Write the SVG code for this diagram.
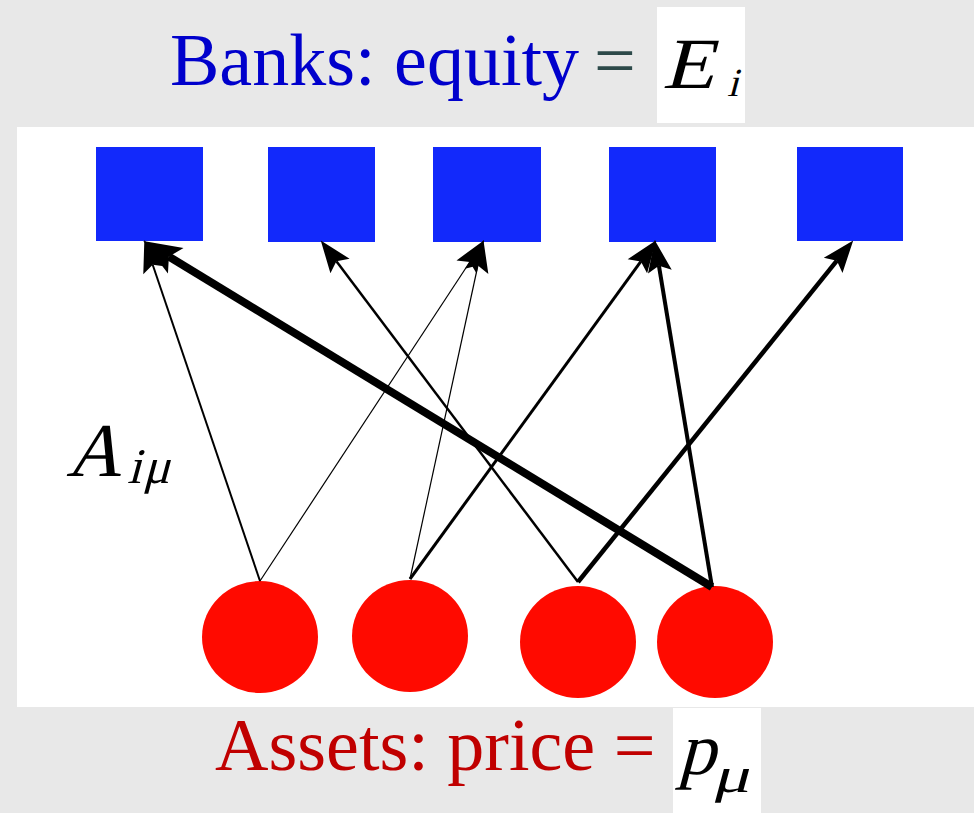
<svg xmlns="http://www.w3.org/2000/svg" width="974" height="813" viewBox="0 0 974 813">
<style>
.bank{fill:#1229fb}
.asset{fill:#ff0a00}
.edge{stroke:#000;fill:none;stroke-linecap:butt}
.ttl{font-family:"Liberation Serif","Times New Roman",serif}
.mi{fill:#000}
</style>
<defs>
<marker id="ah" markerUnits="userSpaceOnUse" orient="auto" refX="6" refY="0" markerWidth="34" markerHeight="26" overflow="visible">
<path d="M0,-12 L32,0 L0,12 L6,0 z" fill="#000"/>
</marker>
<marker id="ahL" markerUnits="userSpaceOnUse" orient="auto" refX="8" refY="0" markerWidth="40" markerHeight="32" overflow="visible">
<path d="M0,-15 L38,0 L0,15 L8,0 z" fill="#000"/>
</marker>
</defs>
<rect x="0" y="0" width="974" height="813" fill="#e8e8e8"/>
<rect x="17" y="127" width="957" height="580" fill="#fff"/>
<rect x="657" y="7" width="88" height="116" fill="#fff"/>
<rect x="673" y="708" width="88" height="105" fill="#fff"/>

<g id="title">
<text class="ttl" x="170" y="85" font-size="74" fill="#0000cc">Banks: equity</text>
<text class="ttl" x="594" y="85" font-size="74" fill="#2d4a4a">=</text>
<g transform="translate(662,88) skewX(-15)"><text class="ttl mi" x="0" y="0" font-size="72" textLength="52" lengthAdjust="spacingAndGlyphs">E</text></g>
<g transform="translate(727,96) skewX(-15)"><text class="ttl mi" x="0" y="0" font-size="40">i</text></g>
</g>

<g id="bank1"><rect class="bank" x="96" y="147" width="107" height="94"/></g>
<g id="bank2"><rect class="bank" x="268" y="147" width="107" height="95"/></g>
<g id="bank3"><rect class="bank" x="433" y="147" width="108" height="95"/></g>
<g id="bank4"><rect class="bank" x="609" y="147" width="107" height="95"/></g>
<g id="bank5"><rect class="bank" x="797" y="147" width="106" height="94"/></g>

<g id="asset1"><ellipse class="asset" cx="260" cy="637" rx="58" ry="56"/></g>
<g id="asset2"><ellipse class="asset" cx="410" cy="636" rx="58" ry="56"/></g>
<g id="asset3"><ellipse class="asset" cx="578" cy="642" rx="58" ry="56"/></g>
<g id="asset4"><ellipse class="asset" cx="715" cy="642" rx="58" ry="56"/></g>

<g id="connectors">
<line class="edge" x1="260" y1="581" x2="152.7" y2="264.7" stroke-width="2" marker-end="url(#ah)"/>
<line class="edge" x1="260" y1="581" x2="469.8" y2="262" stroke-width="1.2" marker-end="url(#ah)"/>
<line class="edge" x1="410" y1="579" x2="477.9" y2="265.5" stroke-width="1.2" marker-end="url(#ah)"/>
<line class="edge" x1="410" y1="579" x2="640.9" y2="261.4" stroke-width="3" marker-end="url(#ah)"/>
<line class="edge" x1="578" y1="582" x2="336.4" y2="261.2" stroke-width="2.5" marker-end="url(#ah)"/>
<line class="edge" x1="578" y1="582" x2="836.9" y2="260.7" stroke-width="4.5" marker-end="url(#ah)"/>
<line class="edge" x1="712" y1="587" x2="168.9" y2="256.6" stroke-width="8" marker-end="url(#ahL)"/>
<line class="edge" x1="712" y1="587" x2="658.9" y2="265.7" stroke-width="4" marker-end="url(#ah)"/>
</g>

<g id="label-A">
<g transform="translate(66,476) skewX(-15)"><text class="ttl mi" x="0" y="0" font-size="76">A</text></g>
<g transform="translate(127,483) skewX(-15)"><text class="ttl mi" x="0" y="0" font-size="50">i<tspan dx="2">μ</tspan></text></g>
</g>

<g id="footer">
<text class="ttl" x="215" y="770" font-size="74" fill="#c00000">Assets: price =</text>
<g transform="translate(678,774) skewX(-15)"><text class="ttl mi" x="0" y="0" font-size="74">p</text></g>
<g transform="translate(712,792) skewX(-15)"><text class="ttl mi" x="0" y="0" font-size="50" textLength="38" lengthAdjust="spacingAndGlyphs">μ</text></g>
</g>
</svg>
